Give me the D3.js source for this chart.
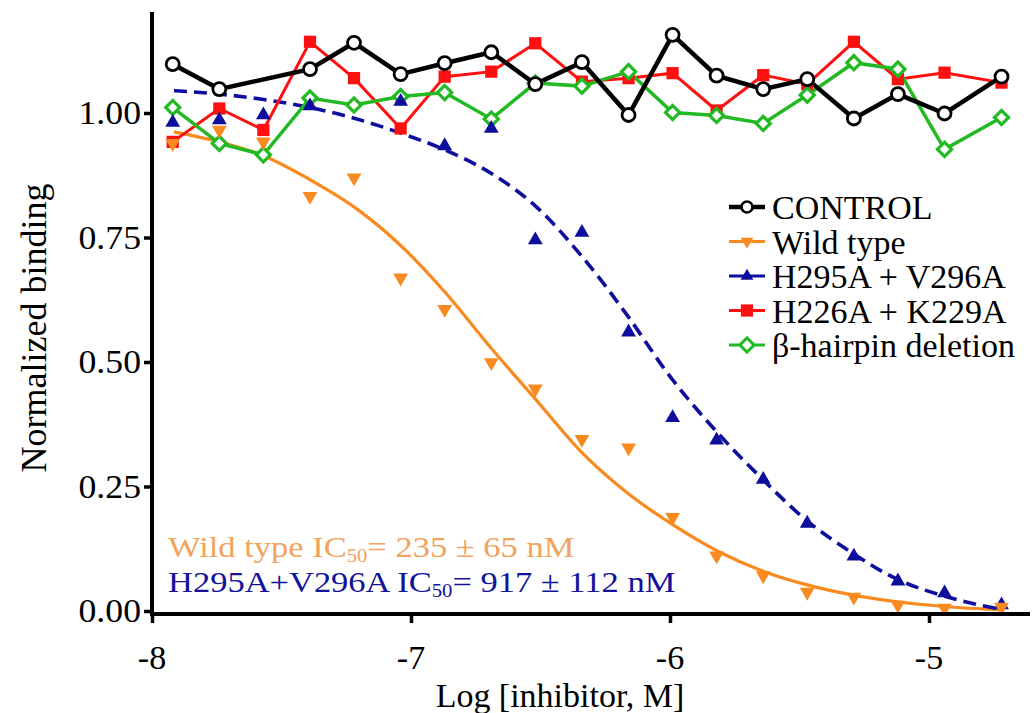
<!DOCTYPE html>
<html><head><meta charset="utf-8">
<script src="https://cdn.jsdelivr.net/npm/d3@7"></script>
<style>html,body{margin:0;padding:0;background:#fff;}svg{display:block;}
svg text{font-family:"Liberation Serif","Times New Roman","DejaVu Serif","Noto Serif",serif;}</style>
</head><body>
<svg id="chart" width="1034" height="713"></svg>
<script>
// ---- data ----
const logConc = [-7.92, -7.74, -7.57, -7.39, -7.22, -7.04, -6.87, -6.69, -6.52, -6.34, -6.16, -5.99, -5.82, -5.64, -5.47, -5.29, -5.12, -4.94, -4.72];
const controlVals = [1.098, 1.048, null, 1.088, 1.141, 1.078, 1.100, 1.122, 1.058, 1.102, 0.996, 1.157, 1.075, 1.048, 1.068, 0.989, 1.038, 0.999, 1.073];
const wildTypeVals = [0.939, 0.966, 0.942, 0.833, 0.870, 0.669, 0.606, 0.499, 0.446, 0.345, 0.328, 0.188, 0.111, 0.071, 0.038, 0.028, 0.012, 0.006, 0.008];
const h295Vals = [0.981, 0.986, 0.996, 1.014, null, 1.023, 0.934, 0.969, 0.745, 0.760, 0.560, 0.388, 0.343, 0.264, 0.176, 0.110, 0.060, 0.036, 0.012];
const h226Vals = [0.942, 1.009, 0.966, 1.143, 1.070, 0.969, 1.073, 1.083, 1.140, 1.063, 1.070, 1.080, 1.005, 1.076, 1.058, 1.143, 1.068, 1.081, 1.061];
const hairpinVals = [1.011, 0.939, 0.916, 1.030, 1.016, 1.033, 1.041, 0.988, 1.060, 1.054, 1.083, 1.001, 0.995, 0.979, 1.036, 1.101, 1.088, 0.927, 0.991];
// fitted curves: [log conc, value]
const wildTypeFitX = [-7.915, -7.741, -7.57, -7.39, -7.216, -7.042, -6.865, -6.691, -6.517, -6.34, -6.162, -5.985, -5.815, -5.641, -5.467, -5.293, -5.116, -4.942, -4.718];
const wildTypeFitY = [0.962, 0.942, 0.914, 0.866, 0.810, 0.735, 0.638, 0.528, 0.424, 0.318, 0.236, 0.172, 0.120, 0.080, 0.052, 0.032, 0.018, 0.009, 0.002];
const h295FitX = [-7.915, -7.741, -7.568, -7.39, -7.216, -7.042, -6.865, -6.691, -6.517, -6.34, -6.16, -6.013, -5.82, -5.653, -5.466, -5.318, -5.116, -4.942, -4.718];
const h295FitY = [1.045, 1.038, 1.027, 1.011, 0.989, 0.960, 0.925, 0.879, 0.812, 0.712, 0.590, 0.480, 0.360, 0.270, 0.179, 0.124, 0.062, 0.030, 0.003];
const yTicks = [0, 0.25, 0.5, 0.75, 1.0];
const xTicks = [-8, -7, -6, -5];
const legendLabels = ["CONTROL", "Wild type", "H295A + V296A", "H226A + K229A", "\u03B2-hairpin deletion"];
const ic50Notes = [
  {pre: "Wild type IC", sub: "50", post: "= 235 \u00B1 65 nM"},
  {pre: "H295A+V296A IC", sub: "50", post: "= 917 \u00B1 112 nM"}
];

// ---- styles ----
const C_BLACK = "#000", C_ORANGE = "#f98a1f", C_BLUE = "#0e0e9e", C_RED = "#ff1010", C_GREEN = "#22b922";
const C_ORANGE_TXT = "#f2a35c", C_BLUE_TXT = "#13139a";

const svg = d3.select("#chart");
const x = d3.scaleLinear().domain([-8, -4.61]).range([152, 1030]);
const y = d3.scaleLinear().domain([0, 1.2]).range([611, 13.4]);
const axisY = 614;

function txt(g, xx, yy, s, opts) {
  opts = opts || {};
  return g.append("text")
    .attr("transform", `translate(${xx},${yy}) scale(${opts.sx || 1},1)` + (opts.rot ? ` rotate(${opts.rot})` : ""))
    .attr("font-size", opts.size || 34)
    .attr("fill", opts.fill || "#000")
    .attr("text-anchor", opts.anchor || "start")
    .text(s);
}

// ---- fit curves ----
const line = d3.line().x(d => x(d[0])).y(d => y(d[1])).curve(d3.curveMonotoneX);
svg.append("path").datum(wildTypeFitX.map((v, i) => [v, wildTypeFitY[i]]))
  .attr("d", line).attr("fill", "none").attr("stroke", C_ORANGE).attr("stroke-width", 3.2);
svg.append("path").datum(h295FitX.map((v, i) => [v, h295FitY[i]]))
  .attr("d", line).attr("fill", "none").attr("stroke", C_BLUE).attr("stroke-width", 3.6)
  .attr("stroke-dasharray", "13,7");

// ---- series ----
const lin = d3.line().x(d => x(d[0])).y(d => y(d[1]));
function pts(vals) { return logConc.map((v, i) => [v, vals[i]]).filter(d => d[1] != null); }

svg.append("path").datum(pts(h226Vals)).attr("d", lin).attr("fill", "none").attr("stroke", C_RED).attr("stroke-width", 3);
svg.append("path").datum(pts(hairpinVals)).attr("d", lin).attr("fill", "none").attr("stroke", C_GREEN).attr("stroke-width", 3.5);
svg.append("path").datum(pts(controlVals)).attr("d", lin).attr("fill", "none").attr("stroke", C_BLACK).attr("stroke-width", 4.5);

const sq = d3.symbol().type(d3.symbolSquare).size(150)();
const tri = d3.symbol().type(d3.symbolTriangle).size(95)();
const triLeg = d3.symbol().type(d3.symbolTriangle).size(70)();
const dia = d3.symbol().type(d3.symbolSquare).size(100)();

svg.append("g").selectAll("path").data(pts(h226Vals)).join("path")
  .attr("d", sq).attr("transform", d => `translate(${x(d[0])},${y(d[1])})`).attr("fill", C_RED);
svg.append("g").selectAll("path").data(pts(hairpinVals)).join("path")
  .attr("d", dia).attr("transform", d => `translate(${x(d[0])},${y(d[1])}) rotate(45)`)
  .attr("fill", "#fff").attr("stroke", C_GREEN).attr("stroke-width", 3.2);
svg.append("g").selectAll("path").data(pts(h295Vals)).join("path")
  .attr("d", tri).attr("transform", d => `translate(${x(d[0])},${y(d[1])})`).attr("fill", C_BLUE);
svg.append("g").selectAll("path").data(pts(wildTypeVals)).join("path")
  .attr("d", tri).attr("transform", d => `translate(${x(d[0])},${y(d[1])}) rotate(180)`).attr("fill", C_ORANGE);
svg.append("g").selectAll("circle").data(pts(controlVals)).join("circle")
  .attr("cx", d => x(d[0])).attr("cy", d => y(d[1])).attr("r", 6.5)
  .attr("fill", "#fff").attr("stroke", C_BLACK).attr("stroke-width", 2.8);

// ---- axes ----
const gy = svg.append("g").attr("transform", `translate(${x(-8)},0)`)
  .call(d3.axisLeft(y).tickValues(yTicks).tickSize(8).tickFormat(d3.format(".2f")));
gy.select(".domain").remove();
gy.selectAll(".tick line").attr("stroke", "#000").attr("stroke-width", 3.5);
gy.selectAll(".tick text").remove();
yTicks.forEach(v => txt(svg, 141, y(v) + 11, d3.format(".2f")(v), {anchor: "end", size: 34, sx: 1.05}));

const gx = svg.append("g").attr("transform", `translate(0,${axisY})`)
  .call(d3.axisBottom(x).tickValues(xTicks).tickSize(9).tickFormat(d => String(d)));
gx.select(".domain").remove();
gx.selectAll(".tick line").attr("stroke", "#000").attr("stroke-width", 3.5);
gx.selectAll(".tick text").remove();
xTicks.forEach(v => txt(svg, x(v), 669, String(v), {anchor: "middle", size: 34}));

svg.append("line").attr("x1", x(-8)).attr("x2", x(-8)).attr("y1", 12).attr("y2", axisY + 2)
  .attr("stroke", "#000").attr("stroke-width", 4);
svg.append("line").attr("x1", x(-8) - 2).attr("x2", 1030).attr("y1", axisY).attr("y2", axisY)
  .attr("stroke", "#000").attr("stroke-width", 4);

// axis titles
txt(svg, 560, 707, "Log [inhibitor, M]", {anchor: "middle", size: 33, sx: 1.03});
txt(svg, 46, 328, "Normalized binding", {anchor: "middle", size: 36, rot: -90});

// ---- legend ----
const legend = svg.append("g");
const legColors = [C_BLACK, C_ORANGE, C_BLUE, C_RED, C_GREEN];
legendLabels.forEach((lab, i) => {
  const ly = 207 + i * 34.5;
  legend.append("line").attr("x1", 729).attr("x2", 765).attr("y1", ly).attr("y2", ly)
    .attr("stroke", legColors[i]).attr("stroke-width", i === 0 ? 4.5 : 3.2);
  const m = legend.append("g").attr("transform", `translate(747,${ly})`);
  if (i === 0) m.append("circle").attr("r", 5.5).attr("fill", "#fff").attr("stroke", C_BLACK).attr("stroke-width", 2.6);
  if (i === 1) m.append("path").attr("d", triLeg).attr("transform", "rotate(180)").attr("fill", C_ORANGE);
  if (i === 2) m.append("path").attr("d", triLeg).attr("fill", C_BLUE);
  if (i === 3) m.append("path").attr("d", sq).attr("fill", C_RED);
  if (i === 4) m.append("path").attr("d", dia).attr("transform", "rotate(45)").attr("fill", "#fff").attr("stroke", C_GREEN).attr("stroke-width", 3);
  txt(legend, 772, ly + 12, lab, {size: 34});
});

// ---- IC50 notes ----
const noteColors = [C_ORANGE_TXT, C_BLUE_TXT];
ic50Notes.forEach((n, i) => {
  const by = 557 + i * 35;
  const t = svg.append("text")
    .attr("transform", `translate(168,${by}) scale(1.15,1)`)
    .attr("font-size", 30).attr("fill", noteColors[i]);
  t.append("tspan").text(n.pre);
  t.append("tspan").attr("font-size", 18).attr("dy", 5).text(n.sub);
  t.append("tspan").attr("dy", -5).text(n.post);
});
</script>
</body></html>
